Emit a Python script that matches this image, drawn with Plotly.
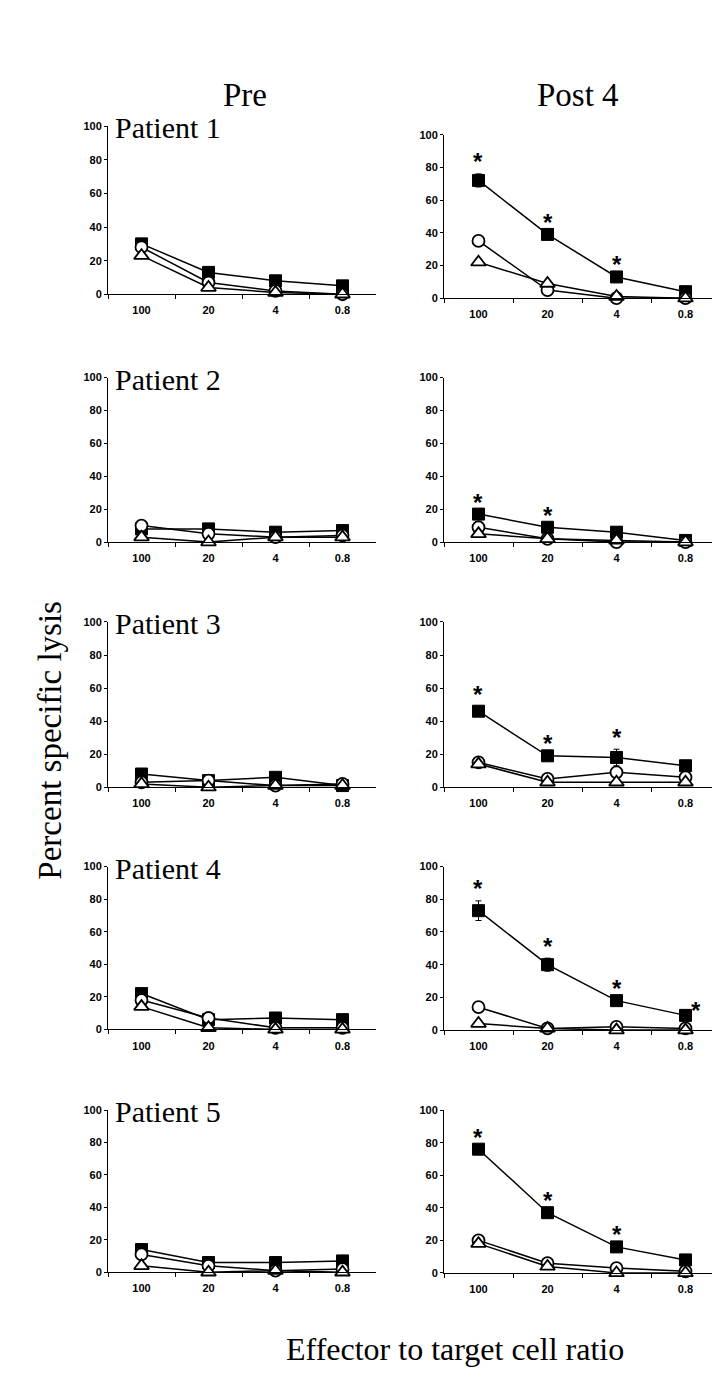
import plotly.graph_objects as go

W, H = 720, 1381

categories = ["100", "20", "4", "0.8"]
patients = ["Patient 1", "Patient 2", "Patient 3", "Patient 4", "Patient 5"]
col_titles = ["Pre", "Post 4"]

# Pre values: filled square, open circle, open triangle
pre_square = [[30, 13, 8, 5], [8, 8, 6, 7], [8, 4, 6, 1], [22, 6, 7, 6], [14, 6, 6, 7]]
pre_circle = [[28, 7, 2, 0], [10, 5, 3, 4], [3, 4, 1, 2], [18, 7, 1, 1], [11, 4, 1, 2]]
pre_triangle = [[23, 4, 1, 0], [3, 0, 3, 3], [2, 0, 1, 1], [14, 1, 0, 0], [4, 0, 1, 0]]

# Post 4 values
post_square = [[72, 39, 13, 4], [17, 9, 6, 1], [46, 19, 18, 13], [73, 40, 18, 9], [76, 37, 16, 8]]
post_circle = [[35, 5, 0, 0], [9, 2, 0, 0], [15, 5, 9, 6], [14, 1, 2, 1], [20, 6, 3, 1]]
post_triangle = [[22, 9, 1, 0], [5, 2, 1, 0], [14, 3, 3, 3], [4, 1, 0, 0], [18, 4, 0, 0]]

# error bars
post_square_err = [[4, 0, 0, 0], [0, 0, 0, 0], [3, 0, 5, 0], [6, 4, 0, 0], [0, 0, 0, 0]]
post_circle_err = [[0, 0, 0, 0], [0, 0, 0, 0], [3, 0, 0, 0], [0, 0, 0, 0], [0, 0, 0, 0]]

# significance stars (post square)
post_star = [[1, 1, 1, 0], [1, 1, 0, 0], [1, 1, 1, 0], [1, 1, 1, 1], [1, 1, 1, 0]]

# layout in pixels: (x0, x1) columns, (y_zero, y_hundred) rows per column
col_x = [(100, 368), (436, 712)]
row_y = [
    [(282.7, 113.3), (286.7, 121.7)],
    [(532.7, 366.7), (532.7, 366.7)],
    [(780, 613.3), (780, 613.3)],
    [(1024.3, 860), (1025, 860)],
    [(1269.3, 1105.7), (1270, 1105.7)],
]

SERIF = "Liberation Serif, Times New Roman, serif"
SANS = "Liberation Sans, Arial, sans-serif"

fig = go.Figure()
annotations = []
layout_axes = {}


def px_x(p):
    return p / W


def px_y(p):
    return 1 - p / H


tick_font = dict(family=SANS, size=11, color="black", weight="bold")

idx = 0
for r in range(5):
    for c in range(2):
        idx += 1
        xa = "x" if idx == 1 else f"x{idx}"
        ya = "y" if idx == 1 else f"y{idx}"
        xk = "xaxis" if idx == 1 else f"xaxis{idx}"
        yk = "yaxis" if idx == 1 else f"yaxis{idx}"
        x0, x1 = col_x[c]
        yb, yt = row_y[r][c]
        layout_axes[xk] = dict(
            domain=[px_x(x0), px_x(x1)], anchor=ya, type="category",
            categoryorder="array", categoryarray=categories,
            range=[-0.5, 3.5], tickson="boundaries", ticks="outside",
            ticklen=4, tickwidth=1, tickcolor="black", ticklabelstandoff=6,
            showline=True, linecolor="black", linewidth=1,
            showgrid=False, zeroline=False, tickfont=tick_font,
        )
        layout_axes[yk] = dict(
            domain=[px_y(yb), px_y(yt)], anchor=xa,
            range=[0, 100], tickvals=[0, 20, 40, 60, 80, 100],
            ticks="outside", ticklen=3, tickwidth=1, tickcolor="black",
            showline=True, linecolor="black", linewidth=1,
            showgrid=False, zeroline=False, tickfont=tick_font,
        )
        if c == 0:
            sq, ci, tr = pre_square[r], pre_circle[r], pre_triangle[r]
            sq_err = [0, 0, 0, 0]
            ci_err = [0, 0, 0, 0]
        else:
            sq, ci, tr = post_square[r], post_circle[r], post_triangle[r]
            sq_err = post_square_err[r]
            ci_err = post_circle_err[r]

        line = dict(color="black", width=1.5)
        fig.add_trace(go.Scatter(
            x=categories, y=sq, xaxis=xa, yaxis=ya, mode="lines+markers",
            line=line, cliponaxis=False, showlegend=False,
            marker=dict(symbol="square", size=12, color="black",
                        line=dict(color="black", width=1)),
            error_y=dict(type="data", array=sq_err, visible=any(sq_err),
                         color="black", thickness=1, width=3),
        ))
        fig.add_trace(go.Scatter(
            x=categories, y=ci, xaxis=xa, yaxis=ya, mode="lines+markers",
            line=line, cliponaxis=False, showlegend=False,
            marker=dict(symbol="circle", size=12, color="white",
                        line=dict(color="black", width=1.8)),
            error_y=dict(type="data", array=ci_err, visible=any(ci_err),
                         color="black", thickness=1, width=3),
        ))
        fig.add_trace(go.Scatter(
            x=categories, y=tr, xaxis=xa, yaxis=ya, mode="lines+markers",
            line=line, cliponaxis=False, showlegend=False,
            marker=dict(symbol="triangle-up", size=13, color="white",
                        line=dict(color="black", width=1.8)),
        ))

        if c == 1:
            for k, flag in enumerate(post_star[r]):
                if flag:
                    right = (k == 3)
                    annotations.append(dict(
                        x=k, y=sq[k] + sq_err[k], xref=xa, yref=ya,
                        text="<b>*</b>", showarrow=False,
                        font=dict(family=SANS, size=24, color="black"),
                        xanchor="center", yanchor="middle",
                        xshift=10 if right else 0, yshift=5 if right else 12,
                    ))
        if c == 0:
            annotations.append(dict(
                x=px_x(105), y=px_y(yt + 1.5), xref="paper", yref="paper",
                text=patients[r], showarrow=False, xanchor="left", yanchor="middle",
                font=dict(family=SERIF, size=30, color="black"),
            ))

# column titles
annotations.append(dict(x=px_x(236.5), y=px_y(82), xref="paper", yref="paper",
                        text=col_titles[0], showarrow=False,
                        xanchor="center", yanchor="middle",
                        font=dict(family=SERIF, size=33, color="black")))
annotations.append(dict(x=px_x(570), y=px_y(82), xref="paper", yref="paper",
                        text=col_titles[1], showarrow=False,
                        xanchor="center", yanchor="middle",
                        font=dict(family=SERIF, size=33, color="black")))
# axis titles
annotations.append(dict(x=px_x(42), y=px_y(733), xref="paper", yref="paper",
                        text="Percent specific lysis", showarrow=False, textangle=-90,
                        xanchor="center", yanchor="middle",
                        font=dict(family=SERIF, size=33, color="black")))
annotations.append(dict(x=px_x(447), y=px_y(1347), xref="paper", yref="paper",
                        text="Effector to target cell ratio", showarrow=False,
                        xanchor="center", yanchor="middle",
                        font=dict(family=SERIF, size=32, color="black")))

fig.update_layout(
    width=W, height=H, margin=dict(l=0, r=0, t=0, b=0),
    paper_bgcolor="white", plot_bgcolor="white",
    annotations=annotations, **layout_axes,
)

fig.write_html("out.html")
